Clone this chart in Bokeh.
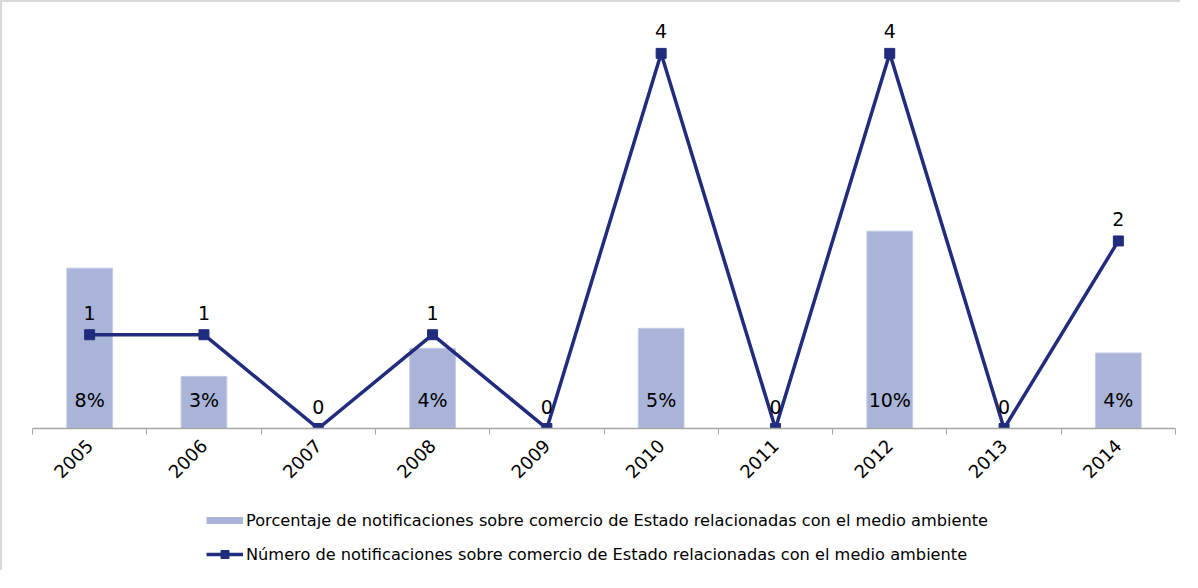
import math
from bokeh.plotting import figure
from bokeh.layouts import column
from bokeh.models import (Range1d, LinearAxis, FixedTicker, ColumnDataSource,
                          Legend, LegendItem)
from bokeh.core.properties import value
from bokeh.embed import file_html
from bokeh.resources import INLINE

years = ["2005", "2006", "2007", "2008", "2009", "2010", "2011", "2012", "2013", "2014"]
pct_values = [8.0, 2.6, 0.0, 4.0, 0.0, 5.0, 0.0, 9.85, 0.0, 3.77]
count_values = [1, 1, 0, 1, 0, 4, 0, 4, 0, 2]

pct_label = "Porcentaje de notificaciones sobre comercio de Estado relacionadas con el medio ambiente"
count_label = "Número de notificaciones sobre comercio de Estado relacionadas con el medio ambiente"

FONT = "DejaVu Sans"
BAR_COLOR = "#A9B4D8"
LINE_COLOR = "#212C7E"
BORDER = "2px solid #D9D9D9"

idx = list(range(len(years)))
src = ColumnDataSource(dict(
    x=idx,
    pct=pct_values,
    cnt=count_values,
    pct_txt=[f"{round(v)}%" if v > 0 else "" for v in pct_values],
    cnt_txt=[str(c) for c in count_values],
    zero=[0] * len(years),
))

# ---- main chart ----
p = figure(width=1180, height=500, output_backend="svg", toolbar_location=None,
           x_range=Range1d(-0.5, len(years) - 0.5), y_range=Range1d(0, 4.5),
           min_border_left=30, min_border_right=7, min_border_top=4, min_border_bottom=74,
           x_axis_location=None, y_axis_location=None)
p.styles = {"border-top": BORDER, "border-left": BORDER}
p.outline_line_color = None
p.grid.visible = False
p.extra_y_ranges = {"pct": Range1d(0, 21.06)}

xaxis = LinearAxis(ticker=FixedTicker(ticks=idx, minor_ticks=[i - 0.5 for i in range(len(years) + 1)]),
                   major_label_overrides={i: y for i, y in enumerate(years)})
xaxis.axis_line_color = "#A6A6A6"
xaxis.axis_line_width = 1.5
xaxis.major_tick_line_color = None
xaxis.minor_tick_line_color = "#A6A6A6"
xaxis.minor_tick_in = 0
xaxis.minor_tick_out = 6
xaxis.minor_tick_line_width = 1
xaxis.major_label_orientation = math.pi / 4
xaxis.major_label_text_font = FONT
xaxis.major_label_text_font_size = "18px"
xaxis.major_label_text_color = "#000000"
xaxis.major_label_standoff = 8
p.add_layout(xaxis, "below")

p.vbar(x="x", top="pct", width=0.4, bottom=0, source=src, y_range_name="pct",
       fill_color=BAR_COLOR, line_color="#C3CBE5", line_width=1)
p.text(x="x", y="zero", text="pct_txt", source=src, y_range_name="pct",
       text_align="center", text_baseline="middle", y_offset=-29,
       text_font=value(FONT), text_font_size="19px", text_color="#000000")

p.line(x="x", y="cnt", source=src, line_color=LINE_COLOR, line_width=3.5)
p.scatter(x="x", y="cnt", source=src, marker="square", size=10,
          fill_color=LINE_COLOR, line_color=LINE_COLOR)
p.text(x="x", y="cnt", text="cnt_txt", source=src,
       text_align="center", text_baseline="middle", y_offset=-22,
       text_font=value(FONT), text_font_size="19px", text_color="#000000")

# ---- legend strip ----
lg = figure(width=1180, height=70, output_backend="svg", toolbar_location=None,
            x_range=Range1d(0, 1), y_range=Range1d(0, 1),
            min_border_left=0, min_border_right=0, min_border_top=0, min_border_bottom=0,
            x_axis_location=None, y_axis_location=None)
lg.styles = {"border-left": BORDER}
lg.outline_line_color = None
lg.grid.visible = False

# swatch renderers: their data lie outside the strip's ranges, only the legend shows them
offscreen = ColumnDataSource(dict(x=[-10, -9], y=[-10, -9]))
sw_bar = lg.line(x="x", y="y", source=offscreen, line_color=BAR_COLOR, line_width=7)
sw_line = lg.line(x="x", y="y", source=offscreen, line_color=LINE_COLOR, line_width=3.5)
sw_mark = lg.scatter(x="x", y="y", source=offscreen, marker="square", size=10,
                     fill_color=LINE_COLOR, line_color=LINE_COLOR)

legend = Legend(items=[LegendItem(label=pct_label, renderers=[sw_bar]),
                       LegendItem(label=count_label, renderers=[sw_line, sw_mark])],
                location=(174, 6), orientation="vertical",
                glyph_width=37, glyph_height=20, label_height=20, spacing=14,
                label_standoff=3, padding=0, margin=0,
                label_text_font=FONT, label_text_font_size="16.2px", label_text_color="#000000",
                background_fill_alpha=0, border_line_color=None)
lg.add_layout(legend, "center")

layout = column(p, lg, spacing=0)
open("out.html", "w").write(file_html(layout, INLINE))
